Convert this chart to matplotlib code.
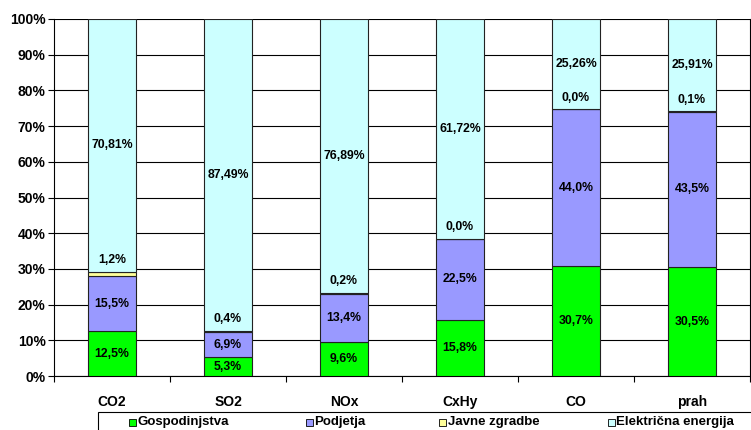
import matplotlib
matplotlib.use("Agg")
import matplotlib.pyplot as plt
from matplotlib.patches import Rectangle
import numpy as np

plt.rcParams['font.family'] = ['Liberation Sans', 'DejaVu Sans']
plt.rcParams['font.weight'] = 'bold'

categories = ["CO2", "SO2", "NOx", "CxHy", "CO", "prah"]
series_names = ["Gospodinjstva", "Podjetja", "Javne zgradbe", "Električna energija"]
gospodinjstva = [12.5, 5.3, 9.6, 15.8, 30.7, 30.5]
podjetja = [15.5, 6.9, 13.4, 22.5, 44.0, 43.5]
javne_zgradbe = [1.2, 0.4, 0.2, 0.0, 0.0, 0.1]
elektricna = [70.81, 87.49, 76.89, 61.72, 25.26, 25.91]
colors = ["#00FF00", "#9999FF", "#FFFF99", "#CCFFFF"]
yticks = [0, 10, 20, 30, 40, 50, 60, 70, 80, 90, 100]

series = [gospodinjstva, podjetja, javne_zgradbe, elektricna]
decimals = [1, 1, 1, 2]


def fmt(v, d):
    return f"{v:.{d}f}".replace(".", ",") + "%"


fig = plt.figure(figsize=(7.51, 4.30), dpi=100)
ax = fig.add_axes([54 / 751, 1 - 376 / 430, (750 - 54) / 751, (376 - 19) / 430])

x = np.arange(len(categories))
bottom = np.zeros(len(categories))
for vals, col, d, idx in zip(series, colors, decimals, range(4)):
    vals = np.array(vals)
    ax.bar(x, vals, bottom=bottom, width=0.41, color=col, edgecolor="#222222",
           linewidth=0.8, zorder=3)
    for xi, b, v in zip(x, bottom, vals):
        if idx == 2:
            ax.annotate(fmt(v, d), (xi, b + v), xytext=(0, 8.5),
                        textcoords="offset points", ha="center", va="center",
                        fontsize=8.8, fontweight="bold", zorder=5)
        else:
            ax.text(xi, b + v / 2, fmt(v, d), ha="center", va="center",
                    fontsize=8.8, fontweight="bold", zorder=5)
    bottom = bottom + vals

ax.set_xlim(-0.5, len(categories) - 0.5)
ax.set_ylim(0, 100)
ax.set_yticks(yticks)
ax.set_yticklabels([f"{t}%" for t in yticks], fontsize=10, fontweight="bold")
ax.yaxis.grid(True, color="black", linewidth=0.8, zorder=0)
ax.set_axisbelow(True)

ax.set_xticks(x)
ax.set_xticklabels(categories, fontsize=10, fontweight="bold")
ax.tick_params(axis="x", which="major", length=0, pad=14)
ax.set_xticks(np.arange(len(categories) + 1) - 0.5, minor=True)
ax.tick_params(axis="x", which="minor", length=4, direction="out", width=0.8)
ax.tick_params(axis="y", length=4, direction="out", width=0.8, pad=2)

ax.spines["top"].set_visible(False)
for s in ["left", "bottom", "right"]:
    ax.spines[s].set_color("black")
    ax.spines[s].set_linewidth(0.8)

# legend box along the bottom
W, H = 751, 430
fig.patches.append(Rectangle((98 / W, -0.05), 700 / W, (0.05 + 1 - 412 / H),
                             transform=fig.transFigure, facecolor="white",
                             edgecolor="black", linewidth=0.8, clip_on=False))
marker_x = [129, 306, 439, 608]
for lx, name, col in zip(marker_x, series_names, colors):
    fig.patches.append(Rectangle((lx / W, 1 - 426 / H), 7 / W, 7 / H,
                                 transform=fig.transFigure, facecolor=col,
                                 edgecolor="black", linewidth=0.6))
    fig.text((lx + 8.5) / W, 1 - 422.5 / H, name, fontsize=9.5, fontweight="bold",
             va="center", ha="left")

fig.savefig("out.png", dpi=100)
